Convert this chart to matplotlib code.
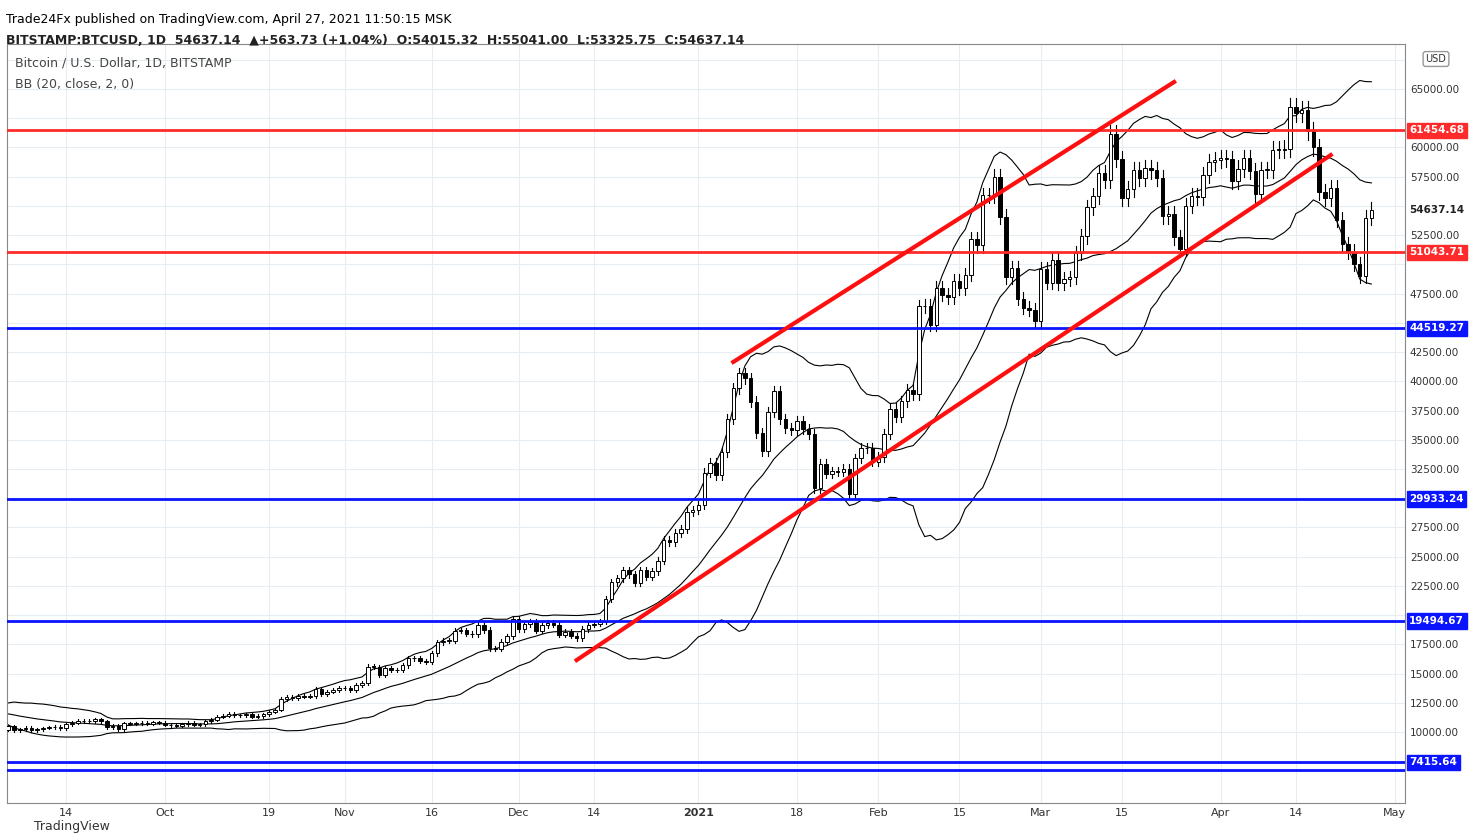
import numpy as np
import matplotlib
matplotlib.use("Agg")
import matplotlib.pyplot as plt
from matplotlib.patches import Rectangle

# warm-up closes (Aug 16 - Sep 3) for Bollinger bands
warmup = [11900,12290,11960,11750,11860,11520,11680,11660,11770,11340,11470,11320,11530,11480,11710,11680,11970,11410,10180]
sep = [10500,10150,10250,10370,10130,10230,10340,10390,10440,10330,10680,10790,10950,10940,10930,11080,10920,10420,10530,10240,10740,10690,10730,10770,10700,10840,10780]
oct_ = [10620,10570,10550,10670,10790,10600,10670,10920,11060,11300,11380,11540,11430,11430,11500,11320,11370,11500,11750,11910,12820,12970,12930,13120,13030,13070,13650,13280,13460,13560,13800]
nov = [13760,13550,14030,14160,15590,15580,14840,15480,15330,15300,15700,16290,16330,16070,15970,16730,17670,17800,17820,18680,18700,18420,18370,19160,18720,17150,17140,17720,18180,19700]
dec = [18790,19210,19440,18650,19150,19360,19170,18320,18550,18250,18030,18800,19170,19270,19440,21340,22800,23130,23860,23480,22740,23820,23240,23730,24660,26440,26250,27030,27360,28860,28990]
jan = [29390,32190,33000,31980,33950,36770,39400,40670,40240,38240,35540,34010,37390,39150,36770,36010,35830,36630,35890,35470,30850,32950,32090,32290,32260,32500,30400,33400,34270,34300,33110]
feb = [33520,35510,37660,36950,38290,39260,38900,46400,46480,44840,47970,47400,47200,48600,47950,49130,52130,51630,55900,55900,57450,54090,48890,49680,47060,46280,46110,45140]
mar = [49590,48440,50350,48370,48760,48880,50970,52390,54880,55860,57800,57220,61180,59000,55640,56430,58080,57410,58250,58030,57350,54100,54340,52300,51300,55030,55840,55780,57630,58730,58920]
apr = [59100,59010,57100,58200,59100,58000,56000,58100,58100,59800,59800,59900,63500,62950,63200,61400,60000,56200,55700,56500,53800,51700,51100,50000,49000,54000,54637.14]
closes = np.array(sep + oct_ + nov + dec + jan + feb + mar + apr, dtype=float)
all_closes = np.array(warmup + list(closes))

tick_pos = [10, 27, 45, 58, 73, 88, 101, 119, 136, 150, 164, 178, 192, 209, 222, 239]
tick_lab = ["14", "Oct", "19", "Nov", "16", "Dec", "14", "2021", "18", "Feb", "15", "Mar", "15", "Apr", "14", "May"]

red_levels = [61454.68, 51043.71]
blue_levels = [44519.27, 29933.24, 19494.67, 7415.64]
extra_blue = 6750
last_price = 54637.14
upper_channel = ([125, 201], [41650, 65600])
lower_channel = ([98, 228], [16150, 59350])

fig = plt.figure(figsize=(14.75, 8.4), dpi=100)
ax = fig.add_axes([7/1475, 1-803/840, 1398/1475, 759/840])
ax.set_xlim(-0.2, 240.8)
ax.set_ylim(3926, 68850)

n = len(closes)
opens = np.concatenate([[all_closes[len(warmup)-1]], closes[:-1]])
x = np.arange(n)
ma = np.array([all_closes[i-19:i+1].mean() for i in range(len(warmup), len(all_closes))])
sd = np.array([all_closes[i-19:i+1].std() for i in range(len(warmup), len(all_closes))])
for arr in (ma, ma+2*sd, ma-2*sd):
    ax.plot(x, arr, color="black", lw=0.8, zorder=2)

for i in range(n):
    o, c = opens[i], closes[i]
    hi, lo = max(o, c)*1.012, min(o, c)*0.988
    ax.plot([i, i], [lo, hi], color="black", lw=0.8, zorder=3)
    up = c >= o
    ax.add_patch(Rectangle((i-0.3, min(o, c)), 0.6, max(abs(c-o), 40),
                           facecolor="white" if up else "black", edgecolor="black", lw=0.7, zorder=4))

for lv in red_levels:
    ax.axhline(lv, color="#ff2b2b", lw=2, zorder=5)
for lv in blue_levels + [extra_blue]:
    ax.axhline(lv, color="#0a14ff", lw=2, zorder=5)
ax.plot(*upper_channel, color="#ff1010", lw=3, zorder=6)
ax.plot(*lower_channel, color="#ff1010", lw=3, zorder=6)

ax.set_xticks(tick_pos)
ax.set_xticklabels(tick_lab, fontsize=8, color="#333333")
for lbl in ax.get_xticklabels():
    if lbl.get_text() == "2021":
        lbl.set_fontweight("bold")
yt = np.arange(10000, 67501, 2500)
tags_all = red_levels + blue_levels + [last_price]
ax.yaxis.tick_right()
ax.set_yticks(yt)
ax.set_yticklabels(["" if min(abs(v - t) for t in tags_all) < 1100 or v == 67500 else f"{v:.2f}" for v in yt],
                   fontsize=7.5, color="#333333")
ax.grid(True, color="#e8edf3", lw=0.8)
ax.tick_params(length=0)
for sp in ax.spines.values():
    sp.set_color("#888888")

def tag(v, txt, col, tcol="white"):
    ax.text(1.003, v, txt, transform=ax.get_yaxis_transform(), fontsize=7.5, color=tcol,
            fontweight="bold", va="center", ha="left", zorder=10,
            bbox=dict(boxstyle="square,pad=0.25", fc=col, ec=col))
for lv in red_levels:
    tag(lv, f"{lv:.2f}", "#ff2b2b")
for lv in blue_levels:
    tag(lv, f"{lv:.2f}", "#0a14ff")
tag(last_price, f"{last_price:.2f}", "white", "#222222")
fig.text(1436/1475, 1-59/840, "USD", fontsize=7, ha="center", va="center", color="#333333",
         bbox=dict(boxstyle="round,pad=0.25", fc="white", ec="#999999"))

ax.text(0.006, 0.983, "Bitcoin / U.S. Dollar, 1D, BITSTAMP", transform=ax.transAxes, fontsize=9, color="#444444", va="top")
ax.text(0.006, 0.955, "BB (20, close, 2, 0)", transform=ax.transAxes, fontsize=9, color="#444444", va="top")
fig.text(0.004, 0.985, "Trade24Fx published on TradingView.com, April 27, 2021 11:50:15 MSK", fontsize=9, va="top")
fig.text(0.004, 0.96, "BITSTAMP:BTCUSD, 1D  54637.14  ▲+563.73 (+1.04%)  O:54015.32  H:55041.00  L:53325.75  C:54637.14",
         fontsize=9, va="top", fontweight="bold", color="#222222")
fig.text(0.023, 0.012, "TradingView", fontsize=9, color="#333333")
fig.savefig("out.png", dpi=100)
